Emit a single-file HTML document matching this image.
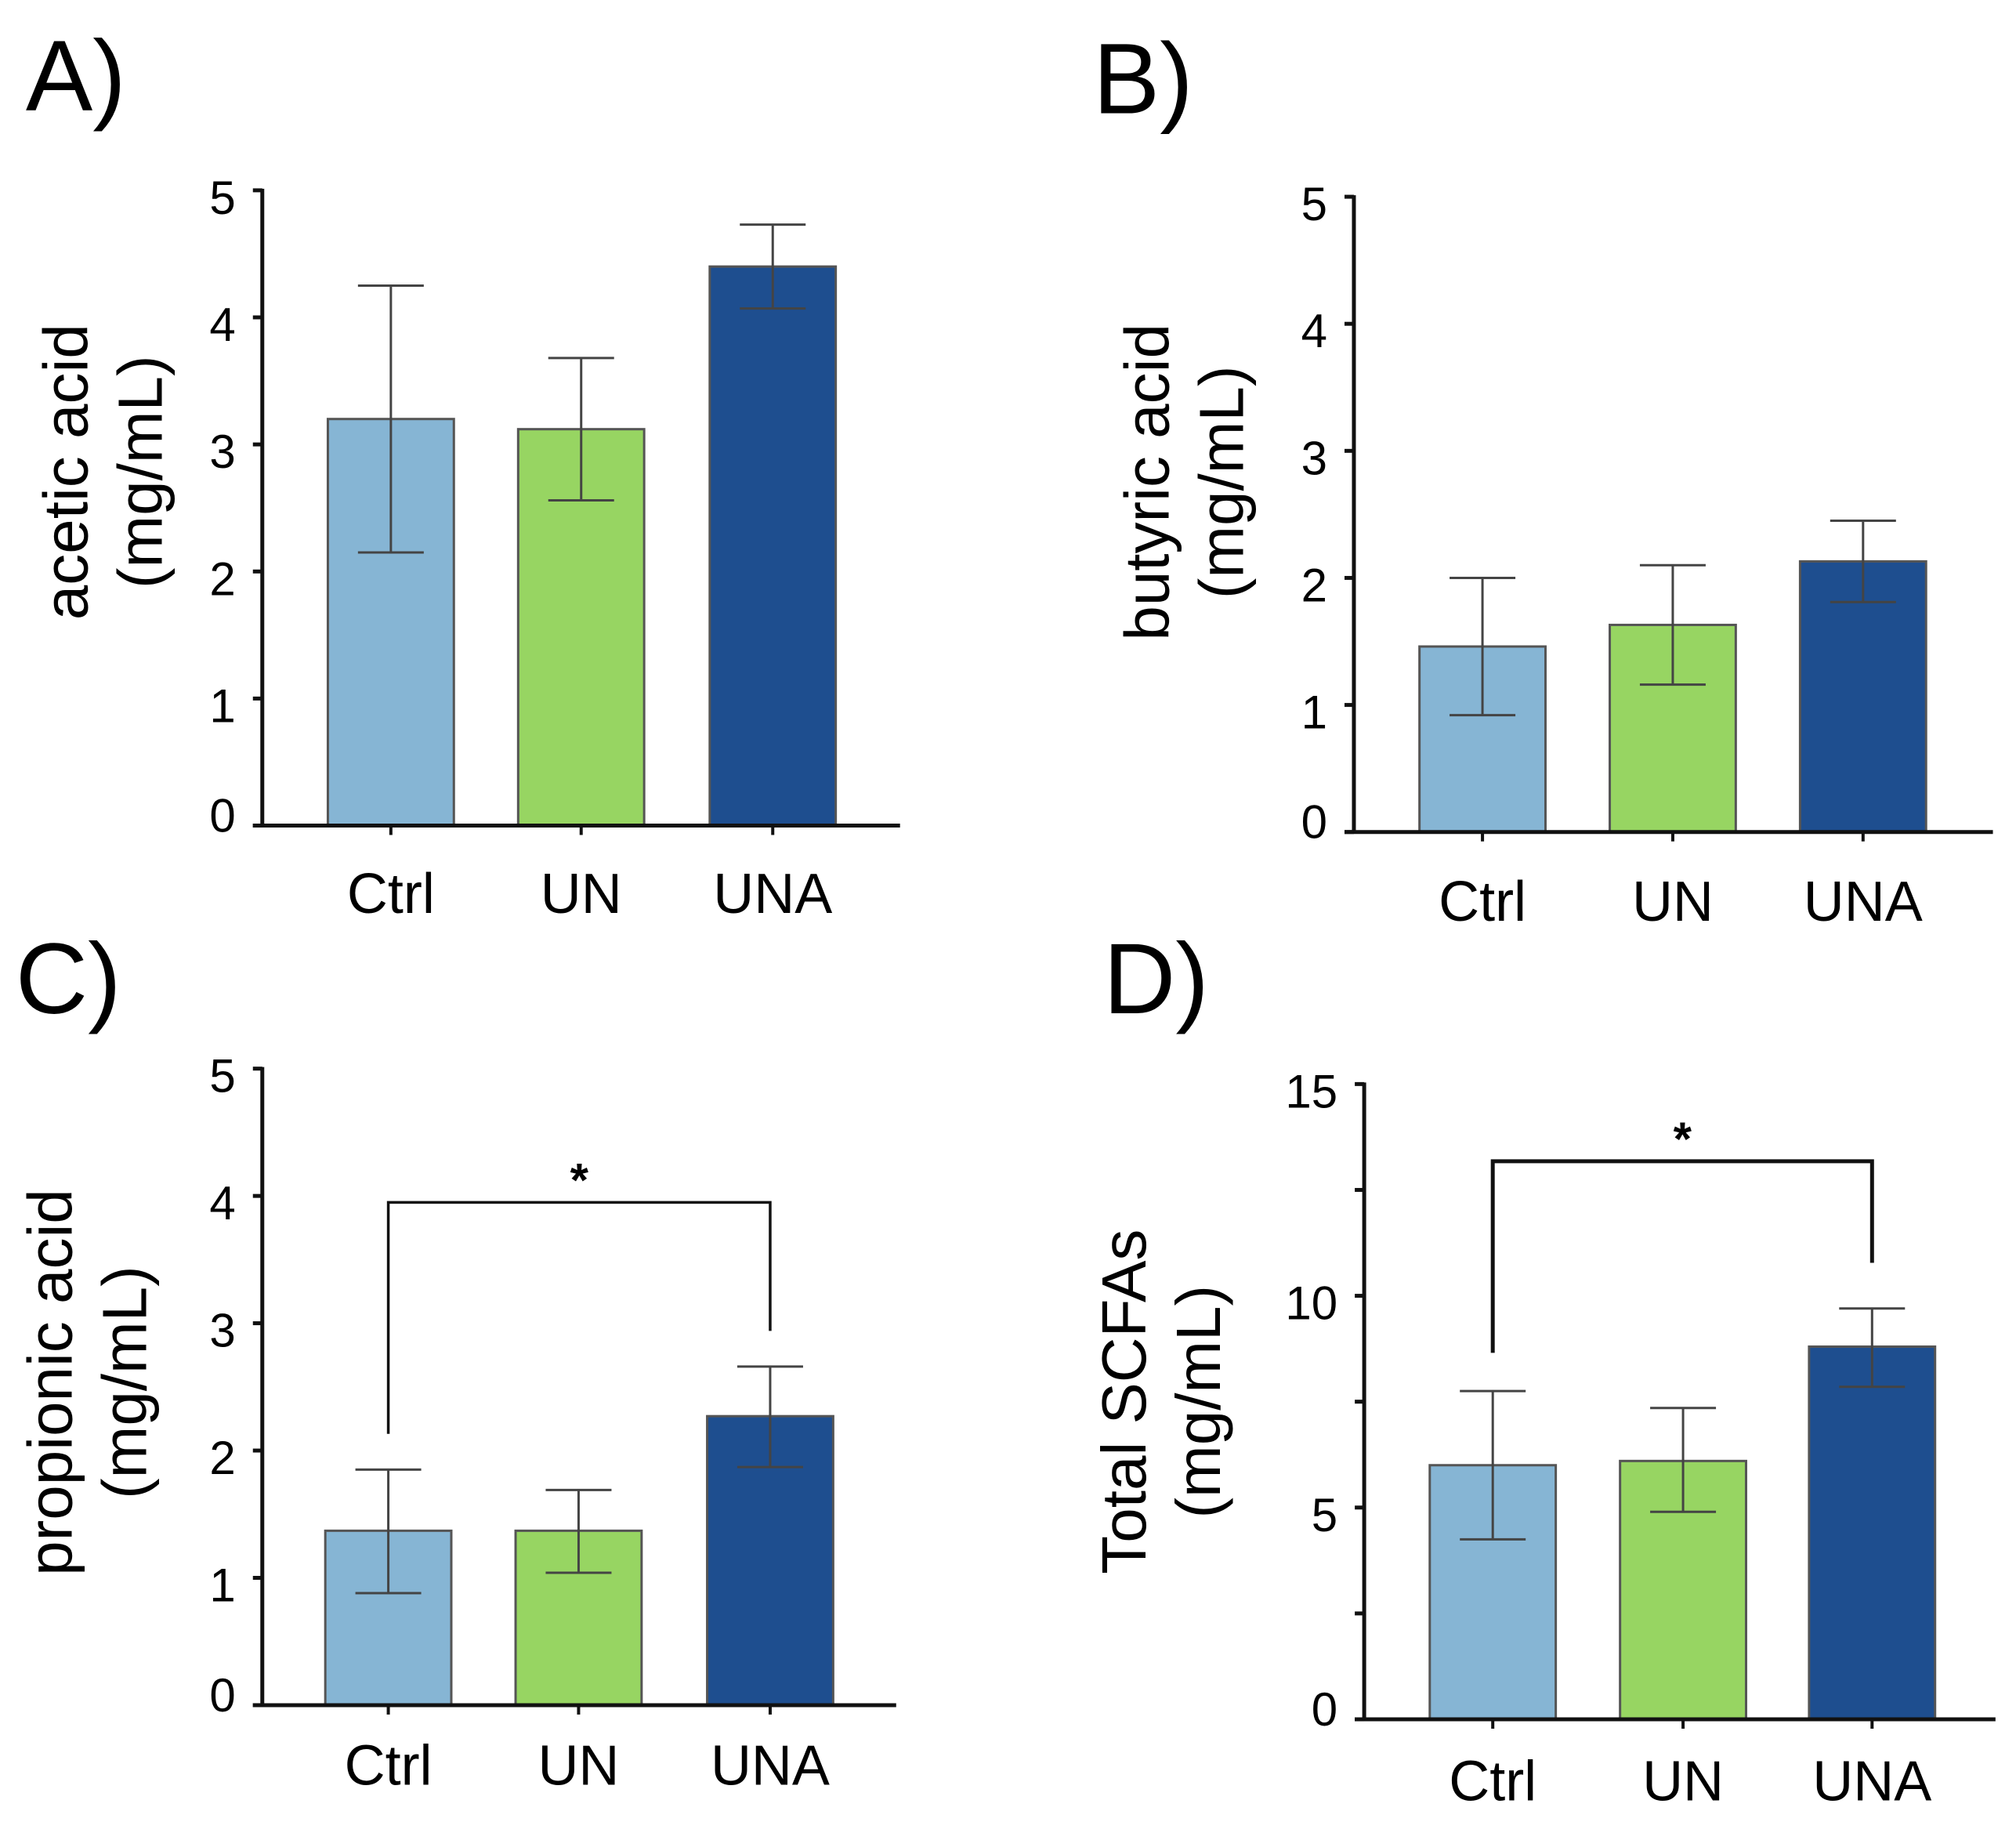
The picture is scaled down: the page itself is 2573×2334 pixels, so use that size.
<!DOCTYPE html>
<html><head><meta charset="utf-8"><style>
html,body{margin:0;padding:0;background:#fff;}
svg{display:block;font-family:"Liberation Sans",Arial,sans-serif;}
</style></head><body>
<svg id="fig" width="2573" height="2334" viewBox="0 0 2573 2334" xmlns="http://www.w3.org/2000/svg"></svg>
<script>
const categories = ["Ctrl","UN","UNA"];
const colors = ["#86b5d4","#97d562","#1e4e8f"];
const aceticValues = [3.2, 3.12, 4.4];
const aceticErrLow = [2.15, 2.56, 4.07];
const aceticErrHigh = [4.25, 3.68, 4.73];
const butyricValues = [1.46, 1.63, 2.13];
const butyricErrLow = [0.92, 1.16, 1.81];
const butyricErrHigh = [2.0, 2.1, 2.45];
const propionicValues = [1.37, 1.37, 2.27];
const propionicErrLow = [0.88, 1.04, 1.87];
const propionicErrHigh = [1.85, 1.69, 2.66];
const totalValues = [6.0, 6.1, 8.8];
const totalErrLow = [4.25, 4.9, 7.85];
const totalErrHigh = [7.75, 7.35, 9.7];
const ticks5 = [0,1,2,3,4,5];
const ticks15 = [0,5,10,15];
const minorTicks15 = [2.5,7.5,12.5];

const S = 1.641;
const NS = "http://www.w3.org/2000/svg";
const svg = document.getElementById('fig');
function el(tag, attrs, parent){
  const e = document.createElementNS(NS, tag);
  for (const k in attrs) e.setAttribute(k, attrs[k]);
  (parent||svg).appendChild(e);
  return e;
}
const panels = [
  {id:'a', letter:'A)', lx:20, ly:86, ax:204, y0:642, yTop:148, xEnd:700, max:5, ticks:ticks5, minor:[],
   vals:aceticValues, lo:aceticErrLow, hi:aceticErrHigh, centers:[304,452,601], ylab1:'acetic acid', ylab2:'(mg/mL)', labX:52, labY:367, catY:710},
  {id:'b', letter:'B)', lx:850, ly:88, ax:1053, y0:647, yTop:153, xEnd:1550, max:5, ticks:ticks5, minor:[],
   vals:butyricValues, lo:butyricErrLow, hi:butyricErrHigh, centers:[1153,1301,1449], ylab1:'butyric acid', ylab2:'(mg/mL)', labX:893, labY:375, catY:716},
  {id:'c', letter:'C)', lx:12, ly:788, ax:204, y0:1326, yTop:831, xEnd:697, max:5, ticks:ticks5, minor:[],
   vals:propionicValues, lo:propionicErrLow, hi:propionicErrHigh, centers:[302,450,599], ylab1:'propionic acid', ylab2:'(mg/mL)', labX:40, labY:1075, catY:1388,
   sig:{y:935, l:1115, r:1035}},
  {id:'d', letter:'D)', lx:858, ly:788, ax:1061, y0:1337, yTop:843, xEnd:1552, max:15, ticks:ticks15, minor:minorTicks15,
   vals:totalValues, lo:totalErrLow, hi:totalErrHigh, centers:[1161,1309,1456], ylab1:'Total SCFAs', ylab2:'(mg/mL)', labX:875, labY:1090, catY:1400,
   sig:{y:903, l:1052, r:982}}
];
panels.forEach(p=>{
  const g = el('g', {});
  
  
  const yS = v => (p.y0 + (p.yTop - p.y0) * v / p.max) * S;
  const ax = p.ax * S;
  const lt = el('text', {x:p.lx*S, y:p.ly*S, 'font-size':128, fill:'#000'}, g);
  lt.textContent = p.letter;
  
  
  const bw = 98 * S;
  p.vals.forEach((v,i)=>{
    const cx = p.centers[i]*S;
    const r = el('rect', {x:cx-bw/2, y:yS(v), width:bw, height:yS(0)-yS(v), fill:colors[i], stroke:'#555', 'stroke-width':3}, g);
    
    
    const eg = el('g', {stroke:'#444', 'stroke-width':3}, g);
    
    
    el('line', {x1:cx, x2:cx, y1:yS(p.lo[i]), y2:yS(p.hi[i])}, eg);
    el('line', {x1:cx-42, x2:cx+42, y1:yS(p.lo[i]), y2:yS(p.lo[i])}, eg);
    el('line', {x1:cx-42, x2:cx+42, y1:yS(p.hi[i]), y2:yS(p.hi[i])}, eg);
    el('line', {x1:cx, x2:cx, y1:yS(0), y2:yS(0)+12, stroke:'#111', 'stroke-width':4}, g);
    const t = el('text', {x:cx, y:p.catY*S, 'font-size':72, 'text-anchor':'middle', fill:'#000'}, g);
    t.textContent = categories[i];
    
    
  });
  const axg = el('g', {stroke:'#111', 'stroke-width':5}, g);
  
  
  el('line', {x1:ax, x2:ax, y1:yS(p.max)-2, y2:yS(0)}, axg);
  el('line', {x1:ax-12, x2:p.xEnd*S, y1:yS(0), y2:yS(0)}, axg);
  p.ticks.forEach(v=>{
    el('line', {x1:ax-12, x2:ax, y1:yS(v), y2:yS(v)}, axg);
    const t = el('text', {x:ax-34, y:yS(v)+(v===0?8:30), 'font-size':60, 'text-anchor':'end', fill:'#000'}, g);
    t.textContent = v;
    
    
  });
  p.minor.forEach(v=>{ el('line', {x1:ax-12, x2:ax, y1:yS(v), y2:yS(v)}, axg); });
  const yl = el('text', {transform:`translate(${p.labX*S + 26},${p.labY*S}) rotate(-90)`, 'font-size':80, 'text-anchor':'middle', fill:'#000'}, g);
  yl.textContent = p.ylab1;
  
  
  const yl2 = el('text', {transform:`translate(${p.labX*S + 26 + 95},${p.labY*S}) rotate(-90)`, 'font-size':80, 'text-anchor':'middle', fill:'#000'}, g);
  yl2.textContent = p.ylab2;
  
  
  if (p.sig){
    const c0 = p.centers[0]*S, c2 = p.centers[2]*S;
    const sg = el('path', {d:`M${c0},${p.sig.l*S} V${p.sig.y*S} H${c2} V${p.sig.r*S}`, fill:'none', stroke:'#111', 'stroke-width': p.id==='d'?5:3.5}, g);
    
    
    const st = el('text', {x:(c0+c2)/2, y:p.sig.y*S - 8, 'font-size':60, 'font-weight':'bold', 'text-anchor':'middle', fill:'#000'}, g);
    st.textContent = '*';
    
    
  }
});
</script>
</body></html>
